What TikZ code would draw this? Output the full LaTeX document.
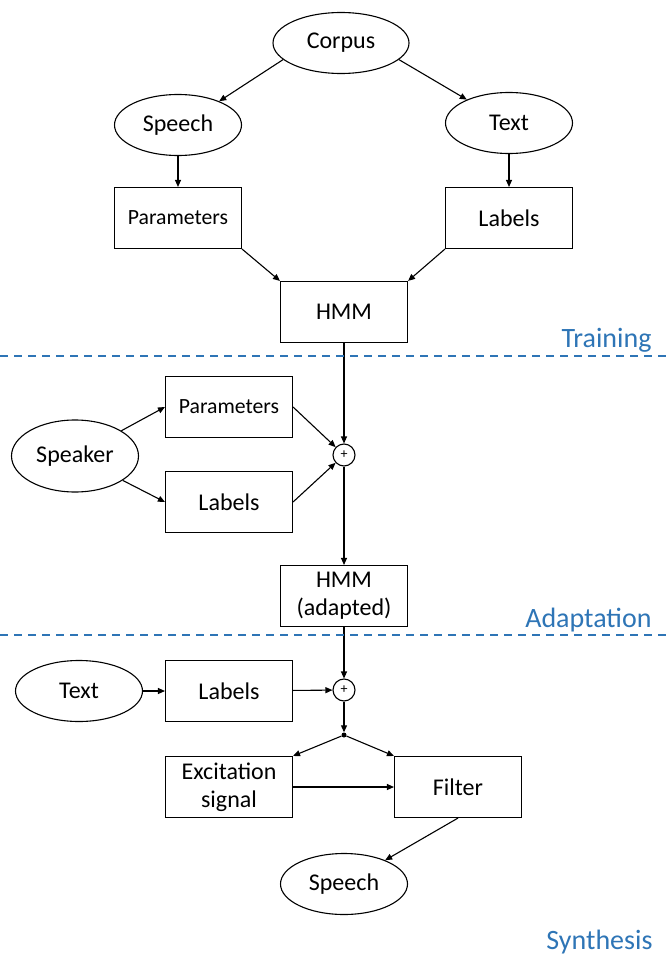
\documentclass[tikz,border=0pt]{standalone}
\usepackage{fontspec}
\setmainfont{Carlito}
\usepackage{tikz}
\usetikzlibrary{shapes.geometric,arrows.meta}
\definecolor{stageblue}{RGB}{46,117,182}

\begin{document}
\begin{tikzpicture}[x=1pt,y=-1pt,
        oval/.style={ellipse,draw,line width=1.1pt,minimum width=127pt,minimum height=61pt,inner sep=0pt,font=\fontsize{24}{28}\selectfont},
        box/.style={rectangle,draw,line width=1.1pt,minimum width=127pt,minimum height=61pt,inner sep=0pt,align=center,font=\fontsize{24}{28}\selectfont},
        smalltext/.style={font=\fontsize{21.7}{26}\selectfont},
        plus/.style={circle,draw,line width=1.1pt,minimum size=22pt,inner sep=0pt,font=\fontsize{14}{14}\selectfont},
        flow/.style={-{Triangle[length=7pt,width=6pt]},line width=1.1pt},
        stage/.style={text=stageblue,anchor=base east,font=\fontsize{28}{32}\selectfont},
        divider/.style={stageblue,line width=1.6pt,dash pattern=on 8pt off 6pt}]
            \useasboundingbox (0,0) rectangle (669,955);
            \def\mid{344}
            \node[oval,minimum width=136pt] (corpus) at (341,43) {Corpus};
            \node[oval] (speech) at (178,125) {Speech};
            \node[oval] (text) at (509,123) {Text};
            \node[box,smalltext] (params) at (178,218) {Parameters};
            \node[box] (labels) at (509,218) {Labels};
            \node[box] (hmm) at (\mid,312) {HMM};
            \node[plus] (sum) at (\mid,455) {+};
            \node[box,smalltext] (spkparams) at (229,407) {Parameters};
            \node[box] (spklabels) at (229,502) {Labels};
            \node[oval,minimum height=72pt] (speaker) at (75,456) {Speaker};
            \node[box] (adapted) at (\mid,596) {HMM\\(adapted)};
            \node[oval] (input) at (79,691) {Text};
            \node[box] (inlabels) at (229,691) {Labels};
            \node[plus] (mix) at (\mid,690) {+};
            \node[circle,fill,inner sep=0pt,minimum size=5pt] (split) at (\mid,735) {};
            \node[box] (excite) at (229,787) {Excitation\\signal};
            \node[box] (filter) at (458,787) {Filter};
            \node[oval] (output) at (\mid,884) {Speech};
            \draw[flow] (corpus.196) -- (speech.30);
            \draw[flow] (corpus.344) -- (text.151);
            \draw[flow] (speech) -- (params);
            \draw[flow] (text) -- (labels);
            \draw[flow] (params.south east) -- (hmm.north west);
            \draw[flow] (labels.south west) -- (hmm.north east);
            \draw[flow] (hmm) -- (sum);
            \draw[flow] (speaker) -- (spkparams.west);
            \draw[flow] (speaker) -- (spklabels.west);
            \draw[flow] (spkparams.east) -- (sum);
            \draw[flow] (spklabels.east) -- (sum);
            \draw[flow] (sum) -- (adapted);
            \draw[flow] (adapted) -- (mix);
            \draw[flow] (input) -- (inlabels);
            \draw[flow] (inlabels) -- (mix);
            \draw[flow] (mix) -- (split);
            \draw[flow] (split) -- (excite.north east);
            \draw[flow] (split) -- (filter.north west);
            \draw[flow] (excite) -- (filter);
            \draw[flow] (filter.south) -- (output);
            \draw[divider] (0,356) -- (669,356);
            \draw[divider] (0,635) -- (669,635);
            \node[stage] (training) at (655,347) {Training};
            \node[stage] (adaptation) at (655,627) {Adaptation};
            \node[stage] (synthesis) at (656,949) {Synthesis};
        \end{tikzpicture}
\end{document}
